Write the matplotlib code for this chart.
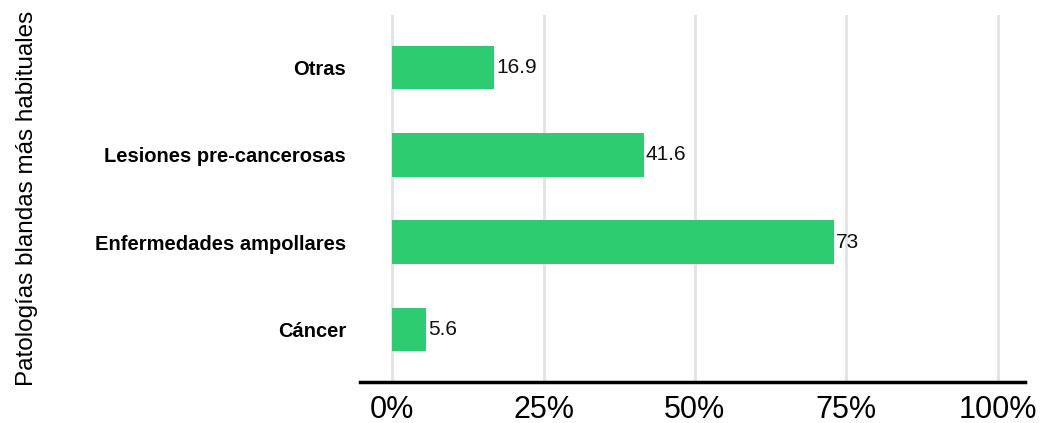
import matplotlib.pyplot as plt

categories = ["Cáncer", "Enfermedades ampollares", "Lesiones pre-cancerosas", "Otras"]
values = [5.6, 73, 41.6, 16.9]
xticks = [0, 25, 50, 75, 100]
xtick_labels = ["0%", "25%", "50%", "75%", "100%"]

fig = plt.figure(figsize=(10.55, 4.23), dpi=100)
ax = fig.add_axes([360 / 1055, 41 / 423, 665 / 1055, 367 / 423])

ax.barh(range(len(categories)), values, height=0.5, color="#2ecc71", zorder=3)
for i, v in enumerate(values):
    ax.text(v + 0.3, i, f"{v:g}", va="center", ha="left",
            fontsize=15, family="Liberation Sans", color="#111111", zorder=4)

ax.set_xlim(-5.3, 104.5)
ax.set_ylim(-0.6, 3.6)
ax.set_xticks(xticks)
ax.set_xticklabels(xtick_labels, family="Liberation Sans", fontsize=22)
ax.set_yticks(range(len(categories)))
ax.set_yticklabels(categories, family="Liberation Sans", fontweight="bold", fontsize=14.5)
ax.tick_params(axis="both", length=0)
ax.tick_params(axis="x", pad=9)
ax.tick_params(axis="y", pad=10)

ax.grid(axis="x", color="#e2e2e2", linewidth=2, zorder=0)
for s in ["top", "right", "left"]:
    ax.spines[s].set_visible(False)
ax.spines["bottom"].set_linewidth(2.5)
ax.spines["bottom"].set_color("black")

ax.set_ylabel("Patologías blandas más habituales", family="Liberation Sans", fontsize=17.5)
ax.yaxis.set_label_coords(-322 / 665, 0.5)

fig.savefig("out.png", dpi=100)
